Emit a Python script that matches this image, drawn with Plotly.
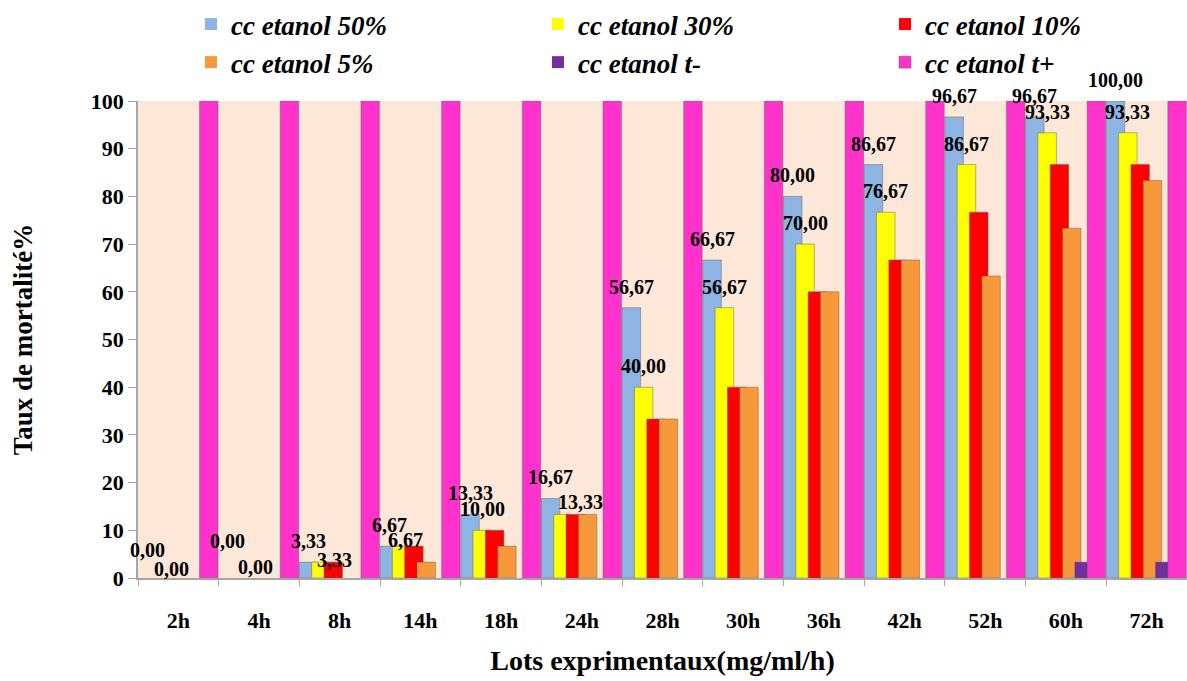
import plotly.graph_objects as go

categories = ["2h", "4h", "8h", "14h", "18h", "24h", "28h", "30h", "36h", "42h", "52h", "60h", "72h"]
series_names = ["cc etanol 50%", "cc etanol 30%", "cc etanol 10%", "cc etanol 5%", "cc etanol t-", "cc etanol t+"]
etanol_50 = [0.00, 0.00, 3.33, 6.67, 13.33, 16.67, 56.67, 66.67, 80.00, 86.67, 96.67, 96.67, 100.00]
etanol_30 = [0.00, 0.00, 3.33, 6.67, 10.00, 13.33, 40.00, 56.67, 70.00, 76.67, 86.67, 93.33, 93.33]
etanol_10 = [0.00, 0.00, 3.33, 6.67, 10.00, 13.33, 33.33, 40.00, 60.00, 66.67, 76.67, 86.67, 86.67]
etanol_5 = [0.00, 0.00, 0.00, 3.33, 6.67, 13.33, 33.33, 40.00, 60.00, 66.67, 63.33, 73.33, 83.33]
etanol_tneg = [0.00, 0.00, 0.00, 0.00, 0.00, 0.00, 0.00, 0.00, 0.00, 0.00, 0.00, 3.33, 3.33]
etanol_tpos = [100.00] * 13
y_ticks = [0, 10, 20, 30, 40, 50, 60, 70, 80, 90, 100]

series_values = [etanol_50, etanol_30, etanol_10, etanol_5, etanol_tneg, etanol_tpos]
colors = ["#8DB4E2", "#FFFF00", "#FF0000", "#F7993A", "#7030A0", "#FF33CC"]

FONT = "Liberation Serif"
W, H = 1187, 681
ML, MR, MT, MB = 138, 0, 101, 103
cat_px = (W - ML - MR) / len(categories)
bar_w = 0.229
step = 0.1525

fig = go.Figure()
for i, (name, vals, col) in enumerate(zip(series_names, series_values, colors)):
    fig.add_trace(go.Bar(
        x=categories, y=vals, name=name,
        offset=-0.5 + i * step, width=bar_w,
        marker=dict(color=col,
                    line=dict(color="rgba(90,90,90,0.55)",
                              width=[0.8 if v > 0 else 0 for v in vals])),
    ))

# data labels for the first two series (as in the original)
label_nudge = {
    (0, "2h"): (0, 28), (1, "2h"): (12, 9),
    (0, "4h"): (0, 37), (1, "4h"): (15, 11),
    (1, "8h"): (14, 2), (1, "14h"): (4, 6), (1, "24h"): (17, 12),
}
annotations = []
for i in (0, 1):
    center = -0.5 + i * step + bar_w / 2
    for c, v in zip(categories, series_values[i]):
        dx, dy = label_nudge.get((i, c), (0, 21))
        annotations.append(dict(
            x=c, y=v, xref="x", yref="y",
            xshift=center * cat_px + dx, yshift=dy,
            text=f"{v:.2f}".replace(".", ","), showarrow=False,
            font=dict(family=FONT, size=20, color="black", weight="bold"),
            xanchor="center", yanchor="middle",
        ))

fig.update_layout(
    width=W, height=H,
    margin=dict(l=ML, r=MR, t=MT, b=MB),
    paper_bgcolor="white", plot_bgcolor="#FCE7D8",
    barmode="overlay",
    annotations=annotations,
    showlegend=True,
    legend=dict(
        orientation="h", xref="container", yref="container",
        x=191 / W, y=1.0, xanchor="left", yanchor="top",
        entrywidth=302, entrywidthmode="pixels",
        font=dict(family=FONT, size=27, color="black", style="italic", weight="bold"),
        traceorder="normal", bgcolor="rgba(0,0,0,0)",
    ),
    xaxis=dict(
        type="category", range=[-0.5, len(categories) - 0.5],
        showline=True, linecolor="#A6A6A6", linewidth=1.5,
        ticks="outside", tickson="boundaries", ticklen=6, tickcolor="#A6A6A6",
        tickfont=dict(family=FONT, size=22, color="black", weight="bold"),
        ticklabelstandoff=22,
        title=dict(text="Lots exprimentaux(mg/ml/h)", standoff=18,
                   font=dict(family=FONT, size=28, color="black", weight="bold")),
        showgrid=False,
    ),
    yaxis=dict(
        range=[0, 100], tickvals=y_ticks,
        showline=True, linecolor="#A6A6A6", linewidth=1.5,
        ticks="outside", ticklen=8, tickcolor="#A6A6A6",
        tickfont=dict(family=FONT, size=22, color="black", weight="bold"),
        showgrid=False, zeroline=False,
        title=dict(text="Taux de mortalité%", standoff=50,
                   font=dict(family=FONT, size=27, color="black", weight="bold")),
    ),
)
for tr in fig.data:
    tr.cliponaxis = False

fig.write_html("out.html")
